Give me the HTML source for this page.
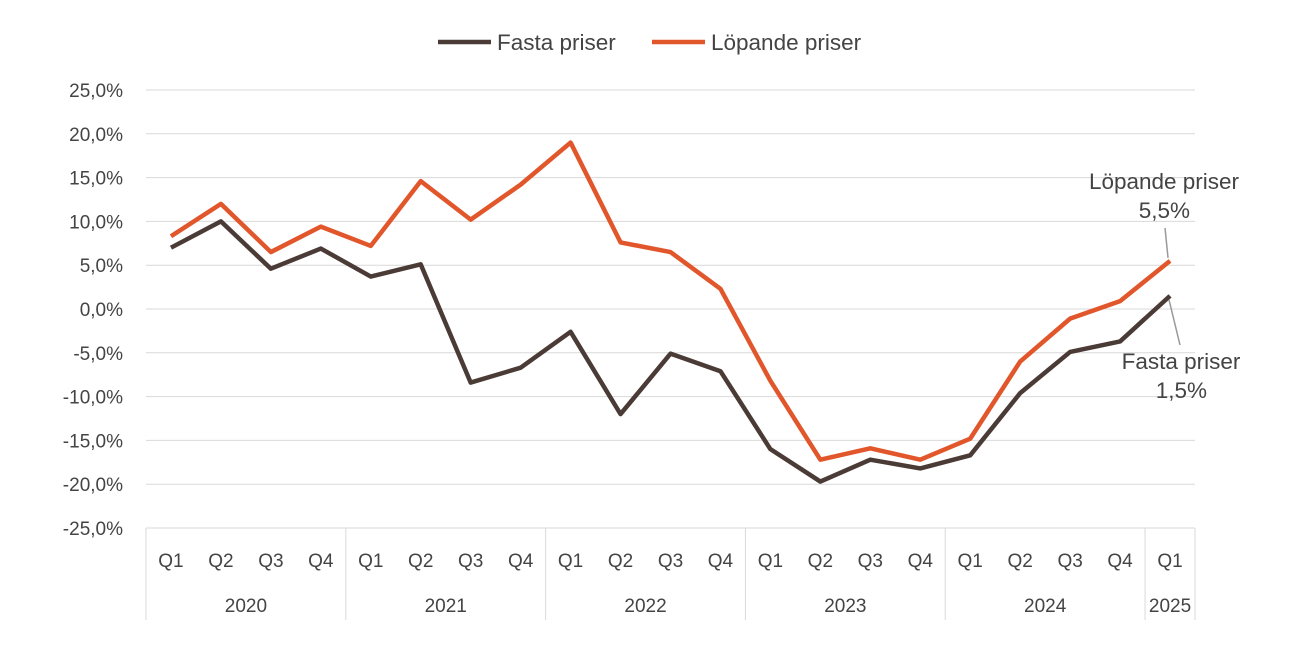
<!DOCTYPE html>
<html><head><meta charset="utf-8"><style>
body{margin:0;background:#fff;font-family:"Liberation Sans",sans-serif}
svg text{font-family:"Liberation Sans",sans-serif;fill:#444}
</style></head><body>
<svg id="c" width="1299" height="661"></svg>
<script>
const quarters=["Q1","Q2","Q3","Q4","Q1","Q2","Q3","Q4","Q1","Q2","Q3","Q4","Q1","Q2","Q3","Q4","Q1","Q2","Q3","Q4","Q1"];
const years=["2020","2021","2022","2023","2024","2025"];
const yearSpans=[4,4,4,4,4,1];
const fasta=[7.0,10.0,4.6,6.9,3.7,5.1,-8.4,-6.7,-2.6,-12.0,-5.1,-7.1,-16.0,-19.7,-17.2,-18.2,-16.7,-9.6,-4.9,-3.7,1.5];
const lopande=[8.3,12.0,6.5,9.4,7.2,14.6,10.2,14.2,19.0,7.6,6.5,2.3,-8.2,-17.2,-15.9,-17.2,-14.8,-6.0,-1.1,0.9,5.5];
const yTicks=[25,20,15,10,5,0,-5,-10,-15,-20,-25];
const svg=document.getElementById('c');const NS="http://www.w3.org/2000/svg";
const L=146,R=1195,T=90,B=528,step=(R-L)/quarters.length;
const x=i=>L+step*(i+0.5);
const y=v=>T+(25-v)/50*(B-T);
function mk(t,a,p){const e=document.createElementNS(NS,t);for(const k in a)e.setAttribute(k,a[k]);(p||svg).appendChild(e);return e;}
yTicks.forEach(v=>{
 const g=mk('line',{x1:L,x2:R,y1:y(v),y2:y(v),stroke:'#d9d9d9','stroke-width':1});
 
 
 const t=mk('text',{x:123,y:y(v)+7,'text-anchor':'end','font-size':19});
 t.textContent=v.toFixed(1).replace('.',',')+'%';
 
 
});
quarters.forEach((q,i)=>{
 const t=mk('text',{x:x(i),y:567,'text-anchor':'middle','font-size':19});t.textContent=q;
 
 
});
let s=0;
mk('line',{x1:L,x2:L,y1:B,y2:620,stroke:'#d9d9d9'});
years.forEach((yr,k)=>{
 const e=s+yearSpans[k];
 const t=mk('text',{x:(L+s*step+L+e*step)/2,y:612,'text-anchor':'middle','font-size':19});t.textContent=yr;
 
 
 mk('line',{x1:L+e*step,x2:L+e*step,y1:B,y2:620,stroke:'#d9d9d9'});
 s=e;
});
function series(d,c,n){
 const p=mk('polyline',{points:d.map((v,i)=>x(i)+','+y(v)).join(' '),fill:'none',stroke:c,'stroke-width':4.5,'stroke-linejoin':'round'});
 
 
}
series(lopande,'#e1562a','lopande-line');
series(fasta,'#4b3b36','fasta-line');
const n=quarters.length-1;
mk('line',{x1:1165,y1:228,x2:x(n)-2,y2:y(lopande[n])-3,stroke:'#999','stroke-width':1.5});
mk('line',{x1:x(n)-1,y1:y(fasta[n])+4,x2:1180,y2:345,stroke:'#999','stroke-width':1.5});
[["Löpande priser",1164,189,'middle'],["5,5%",1190,218,'end'],["Fasta priser",1181,369,'middle'],["1,5%",1207,398,'end']].forEach(a=>{
 const t=mk('text',{x:a[1],y:a[2],'text-anchor':a[3],'font-size':22.5});t.textContent=a[0];
 
 
});
[[438,'#4b3b36','Fasta priser'],[652,'#e1562a','Löpande priser']].forEach(a=>{
 const g=mk('g',{});
 
 
 mk('line',{x1:a[0],x2:a[0]+53,y1:42,y2:42,stroke:a[1],'stroke-width':4.5},g);
 const t=mk('text',{x:a[0]+59,y:50,'font-size':22.5},g);t.textContent=a[2];
});
</script>
</body></html>
